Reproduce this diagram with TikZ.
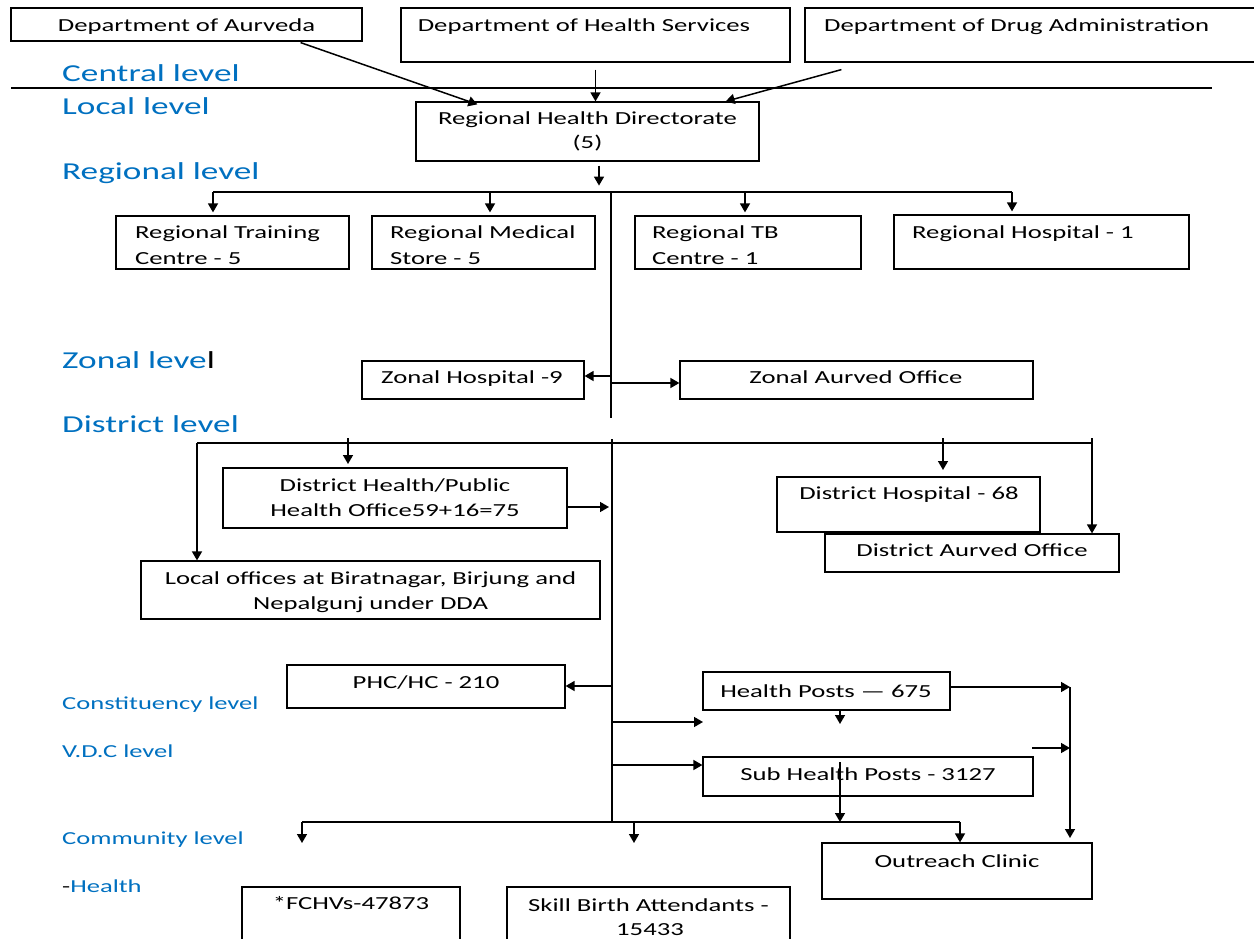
\documentclass[tikz,border=0pt]{standalone}
\usepackage{fontspec}
\setmainfont[FakeStretch=1.45]{Carlito}
\usetikzlibrary{arrows.meta,calc}
\definecolor{lvl}{RGB}{0,112,192}
\tikzset{
 box/.style={draw, line width=1.2pt, inner sep=0pt, rectangle},
 t/.style={inner sep=0pt, font=\fontsize{18.4}{25}\selectfont, anchor=base},
 tl/.style={t, anchor=base west},
 big/.style={inner sep=0pt, text=lvl, font=\fontsize{24.3}{28}\selectfont, anchor=base west},
 small/.style={inner sep=0pt, text=lvl, font=\fontsize{18.3}{22}\selectfont, anchor=base west},
 ln/.style={line width=1.2pt},
 arr/.style={line width=1.5pt, -{Triangle[length=9pt,width=10pt]}},
}
\begin{document}
\begin{tikzpicture}[x=1pt,y=-1pt]
\useasboundingbox (0,0) rectangle (1254,939);
\clip (0,0) rectangle (1254,939);
% level labels
\node[big] (lc) at (62,82) {Central level};
\node[big] (ll) at (62,115) {Local level};
\node[big] (lr) at (62,180) {Regional level};
\node[big] (lz) at (62,368) {Zonal leve\textcolor{black}{l}};
\node[big] (ld) at (62,432) {District level};
\node[small] (lcon) at (62,709) {Constituency level};
\node[small] (lvdc) at (62,757) {V.D.C level};
\node[small] (lcom) at (62,844) {Community level};
\node[small] (lh) at (62,892) {\textcolor{black}{-}Health};
\draw[ln] (11,88) -- (1212,88);
% central boxes
\node[box, minimum width=351pt, minimum height=33pt] (aur) at (186.5,24.5) {};
\node[t] at (186.5,32) {Department of Aurveda};
\node[box, minimum width=389pt, minimum height=54pt] (dhs) at (595.5,35) {};
\node[t] at (584,32) {Department of Health Services};
\node[box, minimum width=451pt, minimum height=54pt] (dda) at (1030.5,35) {};
\node[tl] at (824,32) {Department of Drug Administration};
% RHD
\node[box, minimum width=343pt, minimum height=59pt] (rhd) at (587.5,131.5) {};
\node[t] at (587.5,125) {Regional Health Directorate};
\node[t] at (587.5,149) {(5)};
\draw[arr] ([xshift=-62pt,yshift=-1pt]aur.south east) -- ([xshift=62pt,yshift=-3pt]rhd.north west);
\draw[arr] ([yshift=-7pt]dhs.south) -- (dhs.south |- rhd.north);
\draw[arr] ([xshift=37pt,yshift=-7pt]dda.south west) -- ([xshift=-34pt]rhd.north east);
\draw[arr] ([xshift=11.5pt,yshift=-4pt]rhd.south) -- ([xshift=11.5pt,yshift=-24pt]rhd.south);
% regional boxes
\node[box, minimum width=233pt, minimum height=53pt] (rtc) at (232.5,242.5) {};
\node[tl] at (135,239) {Regional Training};
\node[tl] at (135,264) {Centre - 5};
\node[box, minimum width=223pt, minimum height=53pt] (rms) at (483.5,242.5) {};
\node[tl] at (390,239) {Regional Medical};
\node[tl] at (390,264) {Store - 5};
\node[box, minimum width=226pt, minimum height=53pt] (rtb) at (748,242.5) {};
\node[tl] at (652,239) {Regional TB};
\node[tl] at (652,264) {Centre - 1};
\node[box, minimum width=295pt, minimum height=54pt] (rh) at (1041.5,242) {};
\node[tl] at (912,238) {Regional Hospital - 1};
\coordinate (rbus) at (611,192);
\draw[ln] (213,192) -- (1012,192);
\draw[ln] (rbus) -- (611,418);
\draw[arr, shorten >=3pt] (213,192) -- (213,0 |- rtc.north);
\draw[arr, shorten >=3pt] (490,192) -- (490,0 |- rms.north);
\draw[arr, shorten >=3pt] (745,192) -- (745,0 |- rtb.north);
\draw[arr, shorten >=3pt] (1012,192) -- (1012,0 |- rh.north);
% zonal
\node[box, minimum width=222pt, minimum height=38pt] (zh) at (473,380) {};
\node[t] at (472,383) {Zonal Hospital -9};
\node[box, minimum width=353pt, minimum height=38pt] (zao) at (856.5,380) {};
\node[t] at (856,383) {Zonal Aurved Office};
\draw[arr] (611,376) -- (611,376 -| zh.east);
\draw[arr] (611,383) -- (611,383 -| zao.west);
% district
\node[box, minimum width=344pt, minimum height=60pt] (dho) at (395,498) {};
\node[t] at (395,491) {District Health/Public};
\node[t] at (395,516) {Health Office59+16=75};
\node[box, minimum width=459pt, minimum height=58pt] (lo) at (370.5,590) {};
\node[t] at (370.5,584) {Local offices at Biratnagar, Birjung and};
\node[t] at (370.5,609) {Nepalgunj under DDA};
\node[box, minimum width=263pt, minimum height=55pt] (dh) at (908.5,504.5) {};
\node[t] at (909,499) {District Hospital - 68};
\node[box, minimum width=294pt, minimum height=38pt] (dao) at (972,553) {};
\node[t] at (972,556) {District Aurved Office};
\draw[ln] (197,443) -- (1092,443);
\draw[ln] (612,439) -- (612,822);
\draw[arr] (197,443) -- (197,0 |- lo.north);
\draw[arr] (348,438) -- (348,464);
\draw[arr] (943,438) -- (943,470);
\draw[arr] (1092,438) -- (1092,0 |- dao.north);
\draw[arr] (567,507) -- (609,507);
% constituency / VDC
\node[box, minimum width=278pt, minimum height=43pt] (phc) at (426,686.5) {};
\node[t] at (426,688) {PHC/HC - 210};
\node[box, minimum width=247pt, minimum height=38pt] (hp) at (826.5,691) {};
\node[t] at (826,697) {Health Posts — 675};
\node[box, minimum width=330pt, minimum height=39pt] (shp) at (868,776.5) {};
\node[t] at (868,780) {Sub Health Posts - 3127};
\draw[arr] (612,686) -- (612,686 -| phc.east);
\draw[arr] (612,722) -- (703,722);
\draw[arr] (612,765) -- (612,765 -| shp.west);
\draw[arr] (840,0 |- hp.south) -- (840,724);
\draw[arr] (840,762) -- (840,822);
\coordinate (rc) at (1070,687);
\draw[arr] (950,687) -- (rc);
\draw[arr] (rc) -- (1070,838);
\draw[arr] (1032,748) -- (1070,748);
% community
\node[box, minimum width=270pt, minimum height=56pt] (oc) at (957,871) {};
\node[t] at (957,867) {Outreach Clinic};
\node[box, minimum width=218pt, minimum height=80pt] (fchv) at (351,927) {};
\node[t] at (351,909) {*FCHVs-47873};
\node[box, minimum width=283pt, minimum height=80pt] (sba) at (648.5,927) {};
\node[t] at (648.5,911) {Skill Birth Attendants -};
\node[t] at (650,935) {15433};
\draw[ln] (302,822) -- (960,822);
\draw[arr] (302,822) -- (302,843);
\draw[arr] (634,822) -- (634,843);
\draw[arr] (960,822) -- (960,0 |- oc.north);
\end{tikzpicture}
\end{document}
